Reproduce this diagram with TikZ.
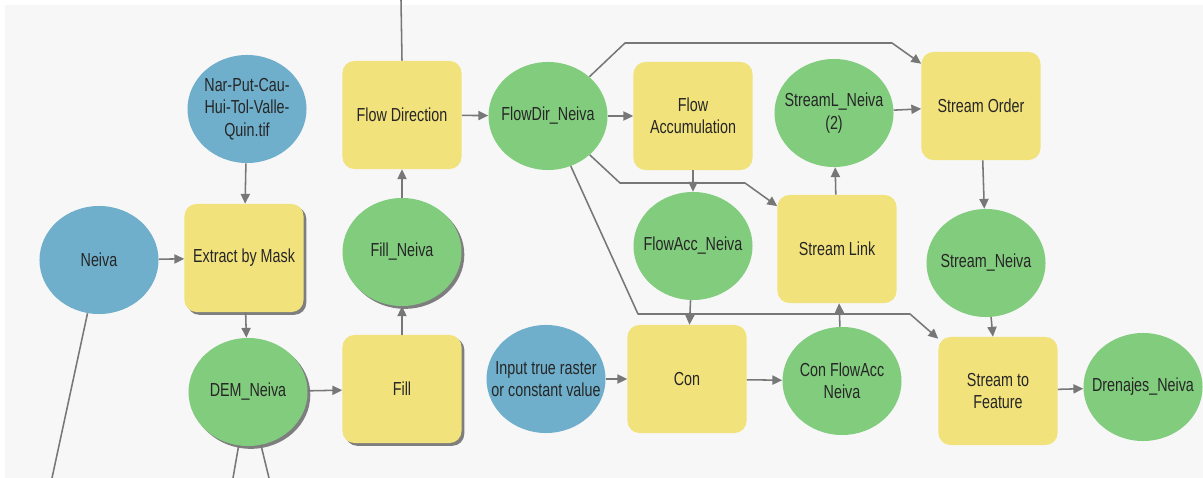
\documentclass[tikz,border=0pt]{standalone}
\usepackage{fontspec}
\setmainfont{Liberation Sans}[FakeStretch=0.76]
\usetikzlibrary{arrows.meta,shapes.geometric,shadows}
\definecolor{azul}{HTML}{6FAFCB}
\definecolor{verde}{HTML}{82CC7E}
\definecolor{amarillo}{HTML}{F2E27C}
\definecolor{gris}{HTML}{777777}
\definecolor{fondo}{HTML}{F7F7F7}
\begin{document}
\begin{tikzpicture}[line join=round,x=0.025cm,y=-0.025cm,
	caja/.style={minimum width=2.975cm,minimum height=2.7cm,inner sep=0pt,align=center,
		text=black!85,font=\fontsize{13.4}{16}\selectfont},
	dato/.style={caja,ellipse,inner xsep=-1cm,fill=azul},
	sal/.style={caja,ellipse,inner xsep=-1cm,fill=verde},
	herr/.style={caja,rectangle,rounded corners=0.3cm,fill=amarillo},
	sombra/.style={drop shadow={shadow xshift=2pt,shadow yshift=-2pt,fill=black!70,opacity=0.7}},
	linea/.style={draw=gris,line width=1.1pt},
	flecha/.style={linea,-{Triangle[length=7pt,width=6.5pt]}}]
	%==Fondo
	\useasboundingbox (0,0) rectangle (1203,478);
	\fill[fondo] (5,5) rectangle (1203,478);
	%==Nodos
	\node[dato] (nar) at (247,109) {Nar-Put-Cau-\\Hui-Tol-Valle-\\Quin.tif};
	\node[dato] (neiva) at (99,260) {Neiva};
	\node[herr,sombra] (extract) at (244,258) {Extract by Mask};
	\node[sal,sombra] (dem) at (248,392) {DEM\_Neiva};
	\node[herr,sombra] (fill) at (402,389) {Fill};
	\node[sal,sombra] (fillN) at (402,252) {Fill\_Neiva};
	\node[herr] (flowdir) at (402,115) {Flow Direction};
	\node[sal] (flowdirN) at (548,116) {FlowDir\_Neiva};
	\node[herr] (flowacc) at (693,116) {Flow\\Accumulation};
	\node[sal] (flowaccN) at (693,246) {FlowAcc\_Neiva};
	\node[dato] (input) at (546,379) {Input true raster\\or constant value};
	\node[herr] (con) at (687,379) {Con};
	\node[sal] (conN) at (842,381) {Con FlowAcc\\Neiva};
	\node[herr] (link) at (837,249) {Stream Link};
	\node[sal] (linkN) at (834,113) {StreamL\_Neiva\\(2)};
	\node[herr] (order) at (981,106) {Stream Order};
	\node[sal] (orderN) at (986,263) {Stream\_Neiva};
	\node[herr] (feature) at (998,391) {Stream to\\Feature};
	\node[sal] (drenajes) at (1143,387) {Drenajes\_Neiva};
	%==Puntos sueltos
	\coordinate (n1) at (52,478);
	\coordinate (d1) at (233,478);
	\coordinate (d2) at (269,478);
	\coordinate (f1) at (401,0);
	%==Conectores
	\draw[linea] (neiva)--(n1);
	\draw[linea] (dem)--(d1);
	\draw[linea] (dem)--(d2);
	\draw[linea] (flowdir.north)--(f1);
	\draw[flecha] (nar)--(extract);
	\draw[flecha] (neiva)--(extract);
	\draw[flecha] (extract)--(dem);
	\draw[flecha] (dem)--(fill);
	\draw[flecha] (fill)--(fillN);
	\draw[flecha] (fillN)--(flowdir);
	\draw[flecha] (flowdir)--(flowdirN);
	\draw[flecha] (flowdirN)--(flowacc);
	\draw[flecha] (flowdirN)--(625,43)--(892,43)--(order);
	\draw[flecha] (flowdirN)--(620,183)--(745,183)--(link);
	\draw[flecha] (flowdirN)--(638,314)--(910,314)--(feature);
	\draw[flecha] (flowacc)--(flowaccN);
	\draw[flecha] (flowaccN)--(con);
	\draw[flecha] (input)--(con);
	\draw[flecha] (con)--(conN);
	\draw[flecha] (conN)--(link);
	\draw[flecha] (link)--(linkN);
	\draw[flecha] (linkN)--(order);
	\draw[flecha] (order)--(orderN);
	\draw[flecha] (orderN)--(feature);
	\draw[flecha] (feature)--(drenajes);
\end{tikzpicture}
\end{document}
